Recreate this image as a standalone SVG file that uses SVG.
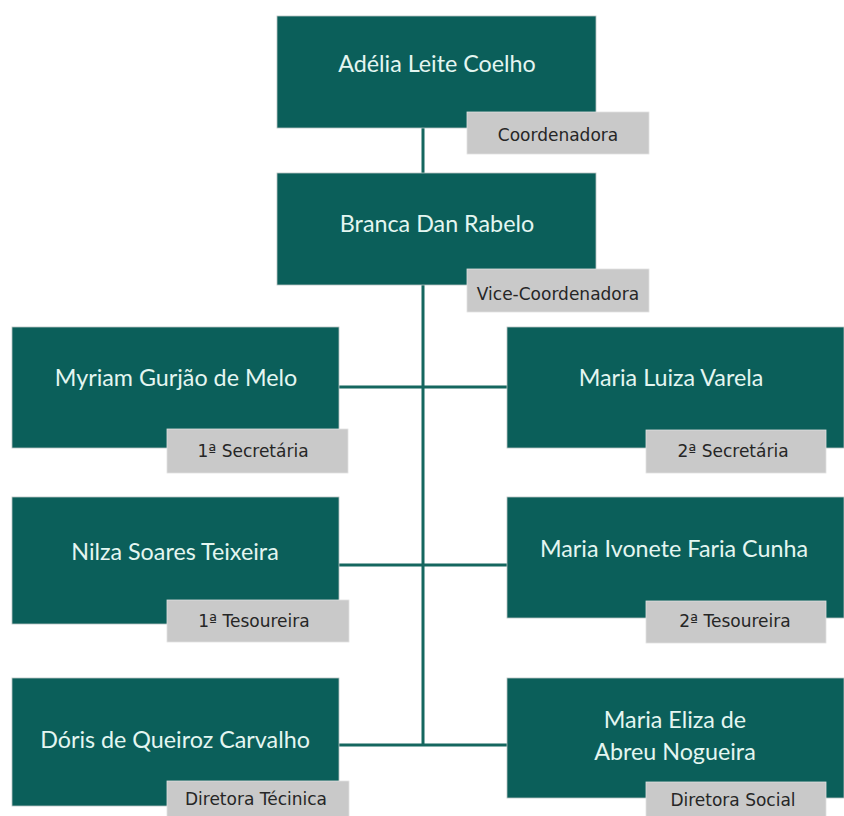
<svg xmlns="http://www.w3.org/2000/svg" width="844" height="816" viewBox="0 0 844 816">
  <style>
    .box { fill: #0b5f5a; stroke: #b9c4c2; stroke-width: 0.8; }
    .tag { fill: #c9c9c9; stroke: #e2e2e2; stroke-width: 0.8; }
    .name { font-family: Lato, "Open Sans", sans-serif; font-size: 23.3px; fill: #e4f6f1; text-anchor: middle; }
    .role { font-family: "DejaVu Sans", "Liberation Sans", sans-serif; font-size: 17px; fill: #262626; text-anchor: middle; }
    .link { stroke: #15675f; stroke-width: 3; fill: none; }
  </style>
  <rect width="844" height="816" fill="#ffffff"/>

  <g id="connectors">
    <line class="link" x1="423" y1="128" x2="423" y2="746"/>
    <line class="link" x1="339" y1="387" x2="507" y2="387"/>
    <line class="link" x1="339" y1="565" x2="507" y2="565"/>
    <line class="link" x1="339" y1="745" x2="507" y2="745"/>
  </g>

  <g id="coordenadora">
    <rect class="box" x="277" y="16" width="319" height="112"/>
    <text class="name" x="437" y="72">Adélia Leite Coelho</text>
    <rect class="tag" x="467" y="112" width="182" height="42"/>
    <text class="role" x="558" y="141">Coordenadora</text>
  </g>

  <g id="vice-coordenadora">
    <rect class="box" x="277" y="173" width="319" height="112"/>
    <text class="name" x="437" y="232">Branca Dan Rabelo</text>
    <rect class="tag" x="467" y="269" width="182" height="43"/>
    <text class="role" x="558" y="300">Vice-Coordenadora</text>
  </g>

  <g id="secretaria-1">
    <rect class="box" x="12" y="327" width="327" height="121"/>
    <text class="name" x="176" y="386">Myriam Gurjão de Melo</text>
    <rect class="tag" x="167" y="429" width="181" height="44"/>
    <text class="role" x="253" y="457">1ª Secretária</text>
  </g>

  <g id="secretaria-2">
    <rect class="box" x="507" y="327" width="337" height="121"/>
    <text class="name" x="671" y="386">Maria Luiza Varela</text>
    <rect class="tag" x="646" y="430" width="180" height="43"/>
    <text class="role" x="733" y="457">2ª Secretária</text>
  </g>

  <g id="tesoureira-1">
    <rect class="box" x="12" y="497" width="327" height="127"/>
    <text class="name" x="175" y="560">Nilza Soares Teixeira</text>
    <rect class="tag" x="167" y="600" width="182" height="42"/>
    <text class="role" x="254" y="627">1ª Tesoureira</text>
  </g>

  <g id="tesoureira-2">
    <rect class="box" x="507" y="497" width="337" height="121"/>
    <text class="name" x="674" y="557">Maria Ivonete Faria Cunha</text>
    <rect class="tag" x="646" y="601" width="180" height="42"/>
    <text class="role" x="735" y="627">2ª Tesoureira</text>
  </g>

  <g id="diretora-tecnica">
    <rect class="box" x="12" y="678" width="327" height="128"/>
    <text class="name" x="175" y="748">Dóris de Queiroz Carvalho</text>
    <rect class="tag" x="167" y="781" width="182" height="40"/>
    <text class="role" x="256" y="805">Diretora Técinica</text>
  </g>

  <g id="diretora-social">
    <rect class="box" x="507" y="678" width="337" height="120"/>
    <text class="name" x="675" y="728">Maria Eliza de</text>
    <text class="name" x="675" y="760">Abreu Nogueira</text>
    <rect class="tag" x="646" y="782" width="180" height="40"/>
    <text class="role" x="733" y="806">Diretora Social</text>
  </g>
</svg>
